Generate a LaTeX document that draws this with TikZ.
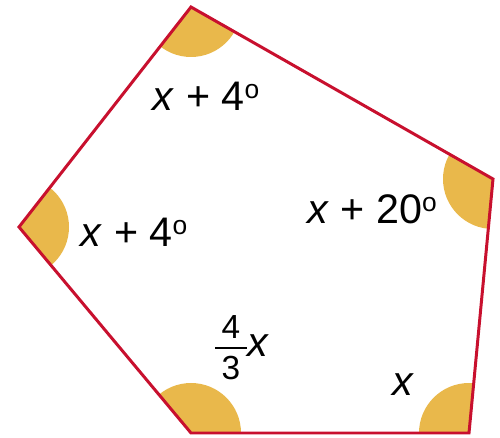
\documentclass[tikz,border=0pt]{standalone}
\usepackage{fontspec}
\setmainfont{Liberation Sans}
\definecolor{edgered}{HTML}{C8102E}
\definecolor{anglefill}{HTML}{E9B84B}
\newcommand{\dg}{\raisebox{0.55ex}{\fontsize{15}{17}\selectfont o}}
\begin{document}
\begin{tikzpicture}[x=0.02cm,y=-0.02cm,
  lbl/.style={font=\fontsize{23.5}{27}\selectfont, inner sep=0pt},
  fr/.style={font=\fontsize{19}{22}\selectfont, inner sep=0pt}]
\useasboundingbox (0,0) rectangle (500,438);
\coordinate (T) at (191,7);
\coordinate (R) at (493,179);
\coordinate (BR) at (469,433);
\coordinate (BL) at (191,433);
\coordinate (L) at (19,227);
\begin{scope}
  \clip (T) -- (R) -- (BR) -- (BL) -- (L) -- cycle;
  \foreach \v in {T,R,BR,BL,L} \fill[anglefill] (\v) circle[radius=50];
\end{scope}
\draw[edgered, line width=1.7pt, line join=miter] (T) -- (R) -- (BR) -- (BL) -- (L) -- cycle;
\node[lbl] (a1) at (206,96) {\textit{x} + 4\dg};
\node[lbl] (a2) at (134,232) {\textit{x} + 4\dg};
\node[lbl] (a3) at (372,209) {\textit{x} + 20\dg};
\node[lbl] (a4) at (403,385) {\textit{x}};
\node[fr] (n4) at (231,327) {4};
\node[fr] (n3) at (231,368) {3};
\draw[line width=0.9pt] (215,348) -- (247,348);
\node[lbl, anchor=west] (fx) at (247,346) {\textit{x}};
\end{tikzpicture}
\end{document}
